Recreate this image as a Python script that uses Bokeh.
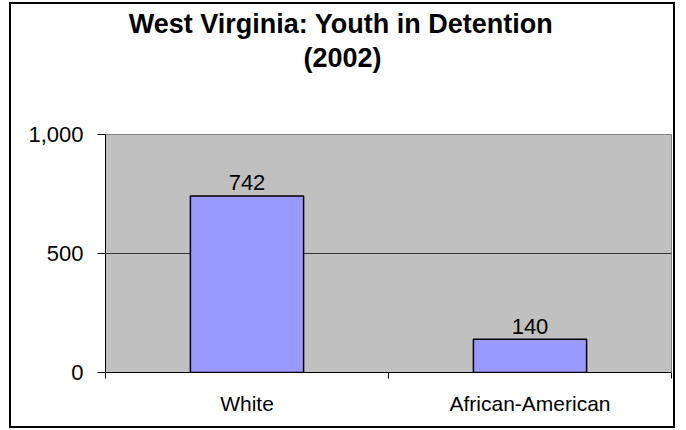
from bokeh.plotting import figure
from bokeh.models import (Range1d, FixedTicker, NumeralTickFormatter, Title,
                          ColumnDataSource)
from bokeh.core.properties import value
from bokeh.embed import file_html
from bokeh.resources import INLINE

categories = ["White", "African-American"]
counts = [742, 140]
count_labels = ["742", "140"]
y_ticks = [0, 500, 1000]
title_lines = ["West Virginia: Youth in Detention", "(2002)"]

FONT = "Liberation Sans"
TITLE_PX = 27

x_pos = [i + 0.5 for i in range(len(categories))]
src = ColumnDataSource(dict(x=x_pos, top=counts, lab=count_labels))

p = figure(width=666, height=426, output_backend="svg", toolbar_location=None,
           x_range=Range1d(0, len(categories)), y_range=Range1d(0, 1000))
p.styles = {"margin-left": "9px", "margin-top": "2px", "border": "2px solid black"}
p.min_border_left = 94
p.min_border_right = 6
p.min_border_top = 130
p.min_border_bottom = 58
p.background_fill_color = "#C0C0C0"
p.border_fill_color = "white"
p.outline_line_color = "#808080"
p.outline_line_width = 1

p.vbar(x="x", top="top", width=0.40, source=src, fill_color="#9999FF",
       line_color="black", line_width=1.5)
p.text(x="x", y="top", text="lab", source=src, text_align="center",
       text_baseline="middle", y_offset=-13, text_font=value(FONT),
       text_font_size="22px", text_color="black")

# x axis: labels at category centres, ticks at category boundaries
xa = p.xaxis[0]
xa.ticker = FixedTicker(ticks=x_pos, minor_ticks=list(range(len(categories) + 1)))
xa.major_label_overrides = {xp: c for xp, c in zip(x_pos, categories)}
xa.major_tick_line_color = None
xa.major_tick_out = 0
xa.major_tick_in = 0
xa.minor_tick_out = 6
xa.minor_tick_in = 0
xa.minor_tick_line_color = "black"
xa.axis_line_color = "black"
xa.axis_line_width = 1
xa.major_label_text_font = FONT
xa.major_label_text_font_size = "21px"
xa.major_label_text_color = "black"
xa.major_label_standoff = 13

ya = p.yaxis[0]
ya.ticker = FixedTicker(ticks=y_ticks)
ya.formatter = NumeralTickFormatter(format="0,0")
ya.major_tick_out = 8
ya.major_tick_in = 0
ya.minor_tick_line_color = None
ya.major_tick_line_color = "black"
ya.axis_line_color = "black"
ya.major_label_text_font = FONT
ya.major_label_text_font_size = "22px"
ya.major_label_text_color = "black"
ya.major_label_standoff = 14

p.xgrid.grid_line_color = None
p.ygrid.grid_line_color = "#333333"
p.ygrid.grid_line_width = 1
p.ygrid.ticker = FixedTicker(ticks=y_ticks)

# spacer between plot area and the title block
p.add_layout(Title(text=" ", text_font_size="10px", standoff=49), "above")

# title lines: second line added first (closest to the plot area)
em_widths = [15.835, 2.89]
offsets = [(342 - 105) - w * TITLE_PX / 2 for w in em_widths]
standoffs = [4, 0]
for txt, off, so in reversed(list(zip(title_lines, offsets, standoffs))):
    p.add_layout(Title(text=txt, align="left", offset=off, standoff=so,
                       text_font=FONT, text_font_size=f"{TITLE_PX}px",
                       text_font_style="bold", text_color="black"), "above")

open("out.html", "w").write(file_html(p, INLINE))
